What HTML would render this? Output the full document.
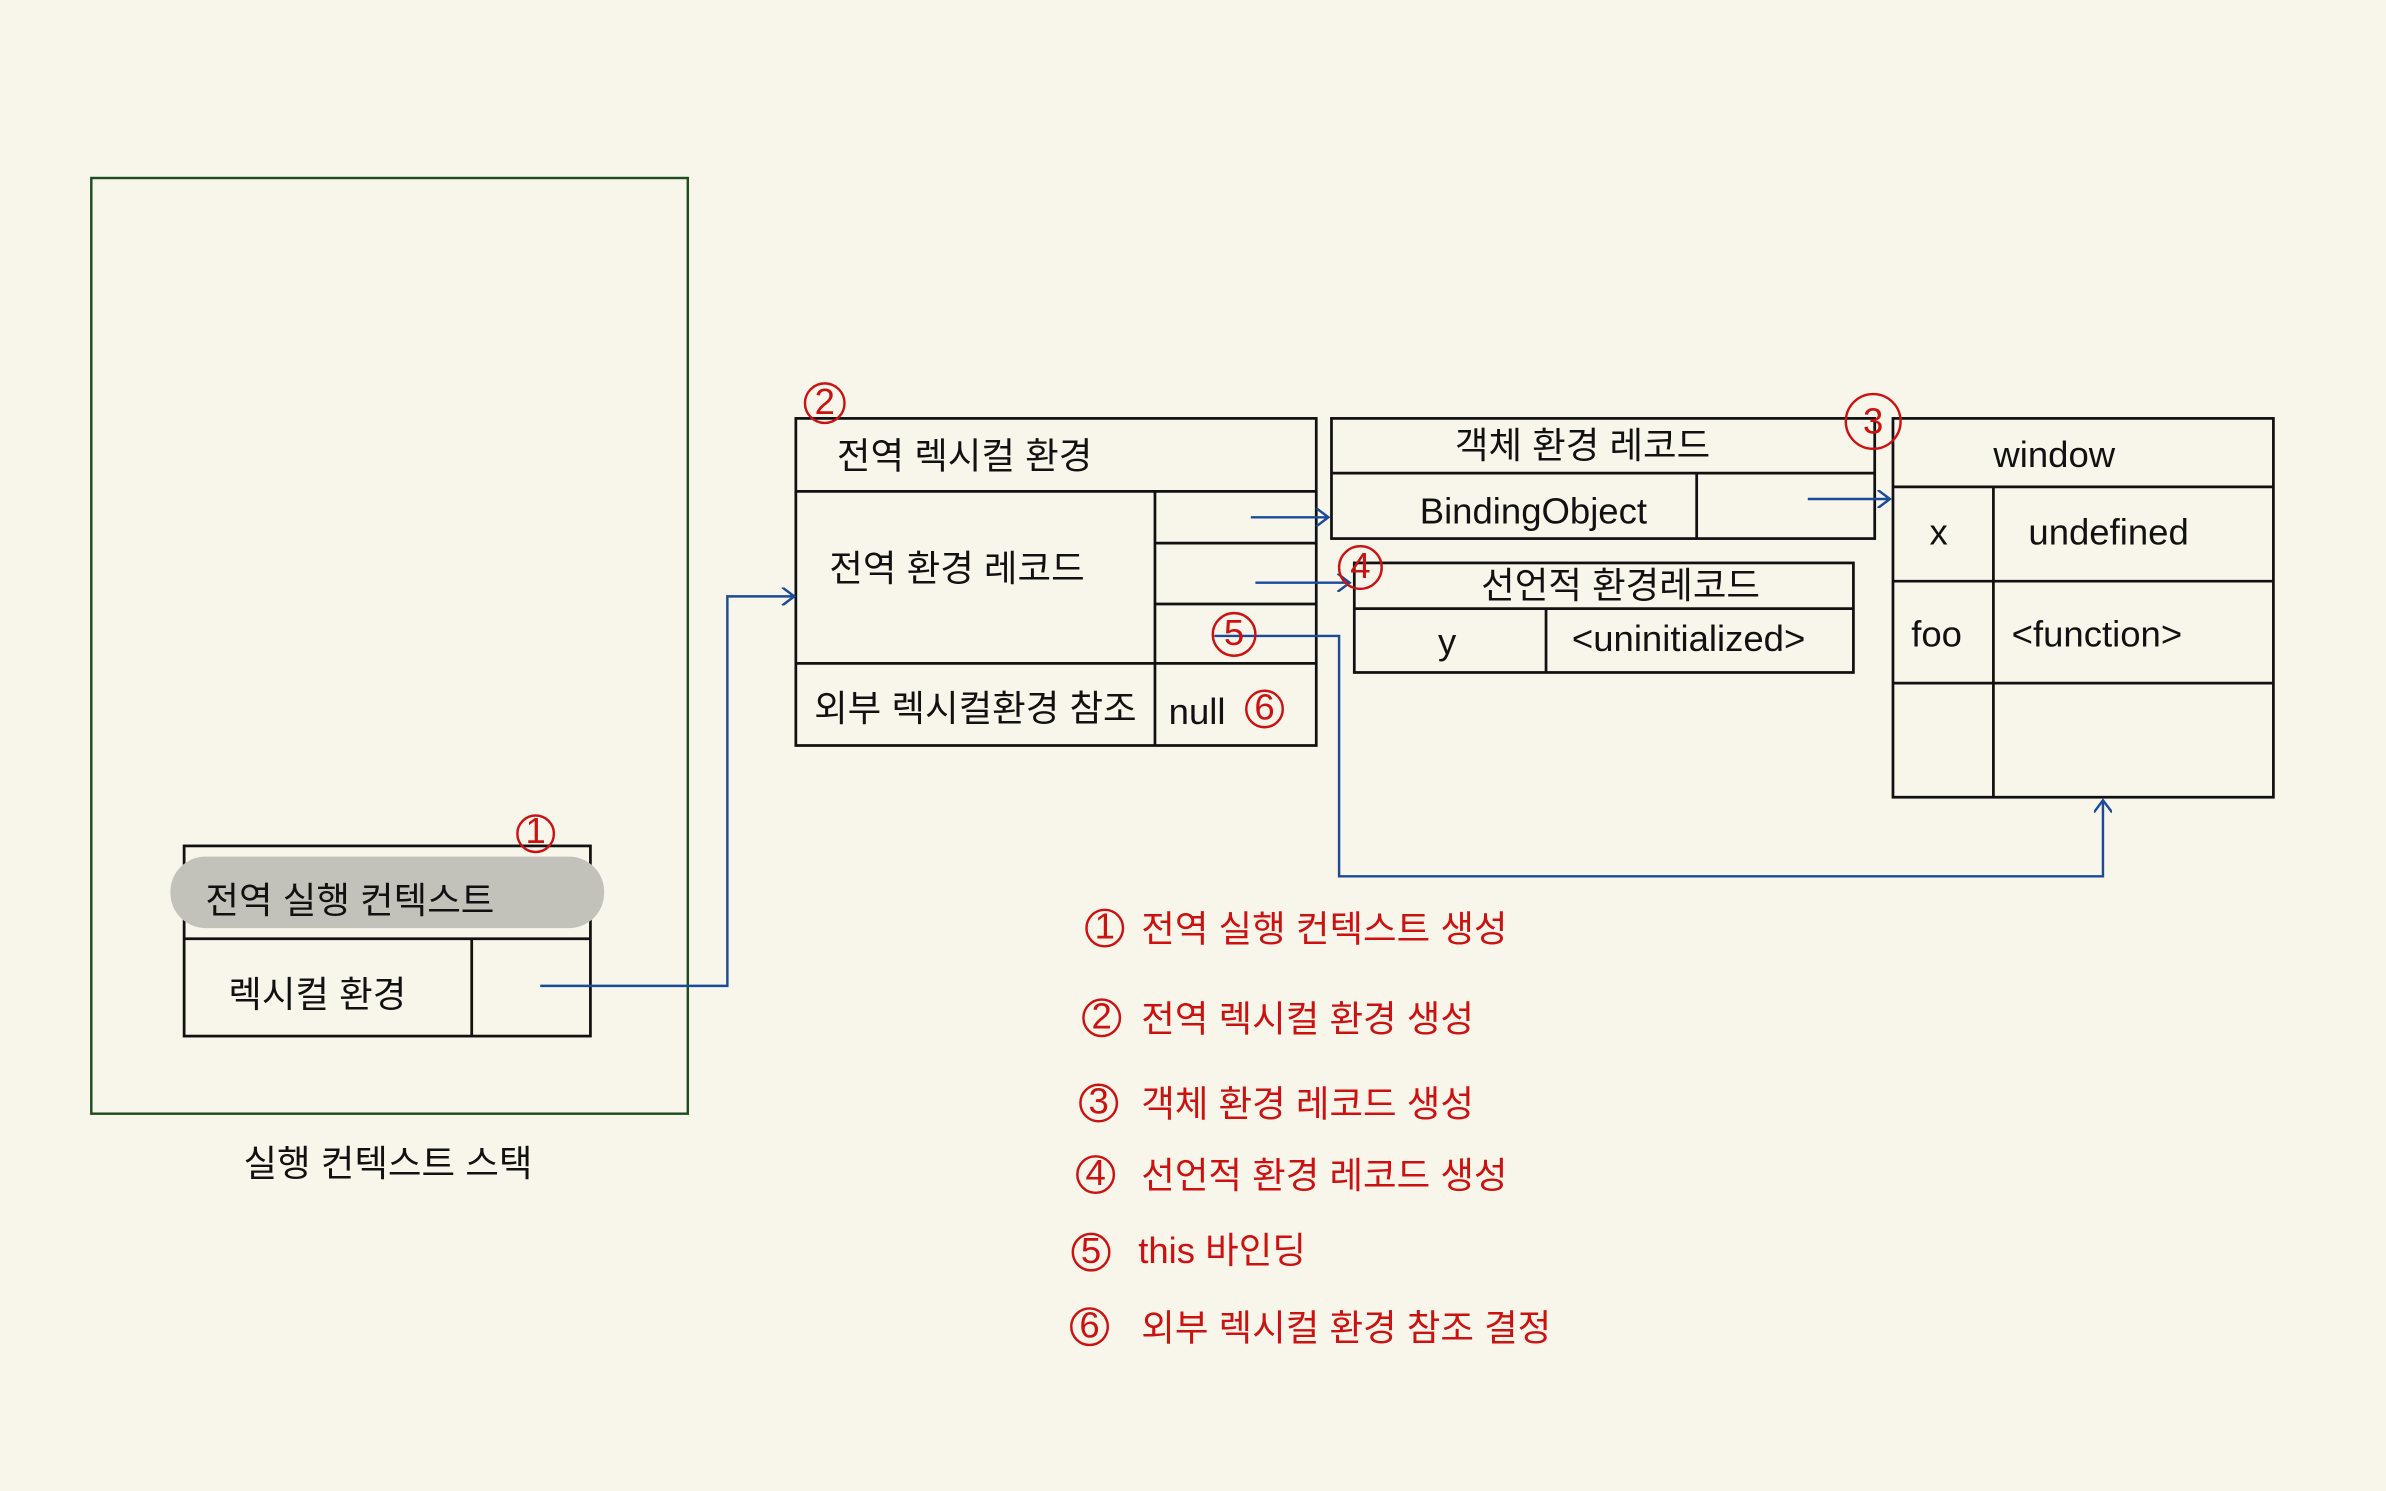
<!DOCTYPE html>
<html><head><meta charset="utf-8">
<style>
html,body{margin:0;padding:0;background:#f8f6ea;}
svg{display:block}
text{font-family:"Liberation Sans","Noto Sans CJK KR","NanumGothic",sans-serif;}
.k{fill:#111;font-size:24px}
.r{fill:#cc1111;font-size:24px}
</style></head><body>
<svg width="2386" height="1491" viewBox="0 0 1568 980" preserveAspectRatio="none" xmlns="http://www.w3.org/2000/svg">
<defs>
<marker id="a" markerWidth="12" markerHeight="12" refX="10" refY="6" orient="auto" markerUnits="userSpaceOnUse">
<path d="M2,0 L10,6 L2,12" fill="none" stroke="#1a4a9a" stroke-width="1.6"/>
</marker>
</defs>
<rect width="1568" height="980" fill="#f8f6ea"/>
<rect x="60" y="117" width="392" height="615" fill="none" stroke="#1f4d1f" stroke-width="1.6"/>
<text x="160" y="773" class="k" font-size="28">실행 컨텍스트 스택</text>
<rect x="121" y="556" width="267" height="125" fill="none" stroke="#111" stroke-width="1.8"/>
<rect x="112" y="563" width="285" height="47" rx="23" fill="#c2c2ba"/>
<text x="135" y="600" class="k">전역 실행 컨텍스트</text>
<line x1="121" y1="617" x2="388" y2="617" stroke="#111" stroke-width="1.8"/>
<line x1="310" y1="617" x2="310" y2="681" stroke="#111" stroke-width="1.8"/>
<text x="150" y="662" class="k">렉시컬 환경</text>
<rect x="523" y="275" width="342" height="215" fill="none" stroke="#111" stroke-width="1.8"/>
<line x1="523" y1="323" x2="865" y2="323" stroke="#111" stroke-width="1.8"/>
<line x1="523" y1="436" x2="865" y2="436" stroke="#111" stroke-width="1.8"/>
<line x1="759" y1="323" x2="759" y2="490" stroke="#111" stroke-width="1.8"/>
<line x1="759" y1="357" x2="865" y2="357" stroke="#111" stroke-width="1.8"/>
<line x1="759" y1="397" x2="865" y2="397" stroke="#111" stroke-width="1.8"/>
<text x="550" y="308" class="k">전역 렉시컬 환경</text>
<text x="545" y="382" class="k">전역 환경 레코드</text>
<text x="535" y="474" class="k" font-size="22">외부 렉시컬환경 참조</text>
<text x="768" y="476" class="k" font-size="28">null</text>
<rect x="875" y="275" width="357" height="79" fill="none" stroke="#111" stroke-width="1.8"/>
<line x1="875" y1="311" x2="1232" y2="311" stroke="#111" stroke-width="1.8"/>
<line x1="1115" y1="311" x2="1115" y2="354" stroke="#111" stroke-width="1.8"/>
<text x="1040" y="301" class="k" text-anchor="middle" font-size="22">객체 환경 레코드</text>
<text x="933" y="344" class="k">BindingObject</text>
<rect x="890" y="370" width="328" height="72" fill="none" stroke="#111" stroke-width="1.8"/>
<line x1="890" y1="400" x2="1218" y2="400" stroke="#111" stroke-width="1.8"/>
<line x1="1016" y1="400" x2="1016" y2="442" stroke="#111" stroke-width="1.8"/>
<text x="1065" y="393" class="k" text-anchor="middle" font-size="21">선언적 환경레코드</text>
<text x="945" y="430" class="k">y</text>
<text x="1033" y="428" class="k">&lt;uninitialized&gt;</text>
<rect x="1244" y="275" width="250" height="249" fill="none" stroke="#111" stroke-width="1.8"/>
<line x1="1244" y1="320" x2="1494" y2="320" stroke="#111" stroke-width="1.8"/>
<line x1="1244" y1="382" x2="1494" y2="382" stroke="#111" stroke-width="1.8"/>
<line x1="1244" y1="449" x2="1494" y2="449" stroke="#111" stroke-width="1.8"/>
<line x1="1310" y1="320" x2="1310" y2="524" stroke="#111" stroke-width="1.8"/>
<text x="1310" y="307" class="k">window</text>
<text x="1268" y="358" class="k" font-size="28">x</text>
<text x="1333" y="358" class="k" font-size="28">undefined</text>
<text x="1256" y="425" class="k" font-size="28">foo</text>
<text x="1322" y="425" class="k" font-size="26">&lt;function&gt;</text>
<g fill="none" stroke="#1a4a9a" stroke-width="1.6">
<polyline points="355,648 478,648 478,392 522,392" marker-end="url(#a)"/>
<line x1="822" y1="340" x2="873" y2="340" marker-end="url(#a)"/>
<line x1="825" y1="383" x2="887" y2="383" marker-end="url(#a)"/>
<line x1="1188" y1="328" x2="1242" y2="328" marker-end="url(#a)"/>
<polyline points="798,418 880,418 880,576 1382,576 1382,526" marker-end="url(#a)"/>
</g>
<g fill="none" stroke="#cc1111" stroke-width="1.6">
<circle cx="352" cy="548" r="12"/>
<circle cx="542" cy="265" r="13"/>
<circle cx="1231" cy="277" r="18"/>
<circle cx="894" cy="373" r="14"/>
<circle cx="811" cy="417" r="14"/>
<circle cx="831" cy="466" r="12"/>
</g>
<g text-anchor="middle">
<text x="352" y="554" class="r" font-size="16">1</text>
<text x="542" y="272" class="r" font-size="18">2</text>
<text x="1231" y="285" class="r" font-size="20">3</text>
<text x="894" y="380" class="r" font-size="18">4</text>
<text x="811" y="424" class="r" font-size="18">5</text>
<text x="831" y="473" class="r" font-size="18">6</text>
</g>
<g fill="none" stroke="#cc1111" stroke-width="1.6">
<circle cx="726" cy="610" r="12"/>
<circle cx="724" cy="669" r="12"/>
<circle cx="722" cy="725" r="12"/>
<circle cx="720" cy="772" r="12"/>
<circle cx="717" cy="823" r="12"/>
<circle cx="716" cy="872" r="12"/>
</g>
<g text-anchor="middle">
<text x="726" y="617" class="r" font-size="17">1</text>
<text x="724" y="676" class="r" font-size="17">2</text>
<text x="722" y="732" class="r" font-size="17">3</text>
<text x="720" y="779" class="r" font-size="17">4</text>
<text x="717" y="830" class="r" font-size="17">5</text>
<text x="716" y="879" class="r" font-size="17">6</text>
</g>
<text x="750" y="619" class="r">전역 실행 컨텍스트 생성</text>
<text x="750" y="678" class="r">전역 렉시컬 환경 생성</text>
<text x="750" y="734" class="r">객체 환경 레코드 생성</text>
<text x="750" y="781" class="r">선언적 환경 레코드 생성</text>
<text x="748" y="830" class="r">this 바인딩</text>
<text x="750" y="881" class="r">외부 렉시컬 환경 참조 결정</text>
</svg>
</body></html>
